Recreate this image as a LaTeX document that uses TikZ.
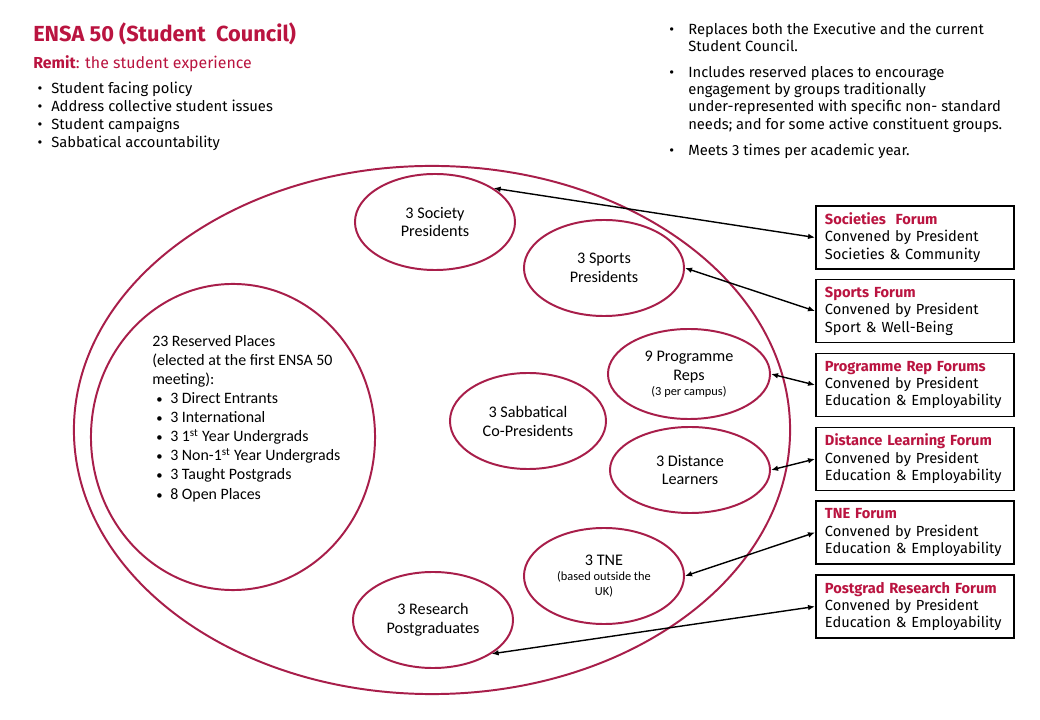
\documentclass[tikz,border=0pt]{standalone}
\usepackage{fontspec}
\setmainfont{Fira Sans}
\newfontfamily\calfont{Carlito}
\usetikzlibrary{arrows.meta,shapes.geometric}
\definecolor{ensared}{HTML}{BA1440}
\definecolor{ringred}{HTML}{A81E4A}
\newcommand\blt{\makebox[0.35cm][l]{\small\textbullet}}
\newcommand\smalltxt{\fontsize{8.8}{10.5}\selectfont}
\tikzset{
  ring/.style={ellipse,draw=ringred,line width=1.4pt,inner sep=0pt,align=center,
    font=\calfont\fontsize{11.5}{13.5}\selectfont},
  forum/.style={draw=black,line width=1.3pt,minimum width=4.95cm,minimum height=1.575cm,
    text width=4.5cm,align=left,inner sep=0pt,font=\fontsize{10.4}{12.4}\selectfont},
  link/.style={{Latex[length=5pt,width=4pt]}-{Latex[length=5pt,width=4pt]},line width=1pt},
  txt/.style={anchor=base west,inner sep=0pt}
}
\begin{document}
\begin{tikzpicture}[x=0.025cm,y=-0.025cm]
  \path[fill=white,use as bounding box] (0,0) rectangle (1040,720);
  % heading and remit
  \node[txt,text=ensared,font=\bfseries\fontsize{15.5}{17}\selectfont] (title) at (33,42) {ENSA 50 (Student\ \ Council)};
  \node[txt,text=ensared,font=\fontsize{11.3}{13}\selectfont] (remit) at (33,69) {\textbf{Remit}: the student experience};
  \foreach \t [count=\i from 0] in {Student facing policy,Address collective student issues,Student campaigns,Sabbatical accountability}
    {\node[txt,font=\fontsize{10.5}{12}\selectfont] (rm\i) at (35,94+18*\i) {\makebox[0.4cm][l]{\,\textbullet}\t};}
  % notes on the right
  \foreach \y/\b/\t [count=\i] in {35/\textbullet/Replaces both the Executive and the current,52//Student Council.,
      78/\textbullet/Includes reserved places to encourage,95//engagement by groups traditionally,
      112//under-represented with specific non- standard,130//needs; and for some active constituent groups.,
      156/\textbullet/Meets 3 times per academic year.}
    {\node[txt,font=\fontsize{10.5}{12}\selectfont] (r\i) at (669,\y) {\makebox[0.475cm][l]{\b}\t};}
  % council and its seats
  \node[ring,minimum width=17.9cm,minimum height=13.2cm] (council) at (432,430) {};
  \node[ring,minimum width=7.1cm,minimum height=7.65cm] (resv) at (233,437) {};
  \foreach \y/\x/\b/\t [count=\i] in {347/152//23 Reserved Places,366/152//(elected at the first ENSA 50,385/152//meeting):,
      404/156/\blt/3 Direct Entrants,423/156/\blt/3 International,442/156/\blt/3 1\textsuperscript{st} Year Undergrads,
      461/156/\blt/3 Non-1\textsuperscript{st} Year Undergrads,480/156/\blt/3 Taught Postgrads,500/156/\blt/8 Open Places}
    {\node[txt,font=\calfont\fontsize{11.3}{13.5}\selectfont] (rv\i) at (\x,\y) {\b\t};}
  \node[ring,minimum width=4cm,minimum height=2.4cm] (soc) at (435,222) {3 Society\\Presidents};
  \node[ring,minimum width=4cm,minimum height=2.4cm] (spt) at (604,268) {3 Sports\\Presidents};
  \node[ring,minimum width=4.05cm,minimum height=2.25cm] (prog) at (689,374) {9 Programme\\Reps\\[-3pt]{\smalltxt (3 per campus)}};
  \node[ring,minimum width=3.9cm,minimum height=2.4cm] (sab) at (528,421) {3 Sabbatical\\Co-Presidents};
  \node[ring,minimum width=4cm,minimum height=2.15cm] (dist) at (690,470) {3 Distance\\Learners};
  \node[ring,minimum width=4cm,minimum height=2.4cm] (tne) at (604,576) {3 TNE\\[-3pt]{\smalltxt (based outside the}\\[-3pt]{\smalltxt UK)}};
  \node[ring,minimum width=4cm,minimum height=2.4cm] (res) at (433,620) {3 Research\\Postgraduates};
  % forums
  \foreach \y/\t/\s [count=\i] in {237.5/Societies\ \ Forum/Societies \& Community,311/Sports Forum/Sport \& Well-Being,
      385/Programme Rep Forums/Education \& Employability,459/Distance Learning Forum/Education \& Employability,
      532.5/TNE Forum/Education \& Employability,606.5/Postgrad Research Forum/Education \& Employability}
    {\node[forum] (f\i) at (915,\y) {\textcolor{ensared}{\bfseries \t}\\Convened by President\\\s};}
  \draw[link] (soc.30) -- (f1.west);
  \draw[link] (spt.east) -- (f2.west);
  \draw[link] (prog.east) -- (f3.west);
  \draw[link] (dist.east) -- (f4.west);
  \draw[link] (tne.east) -- (f5.west);
  \draw[link] (res.-30) -- (f6.west);
\end{tikzpicture}
\end{document}
